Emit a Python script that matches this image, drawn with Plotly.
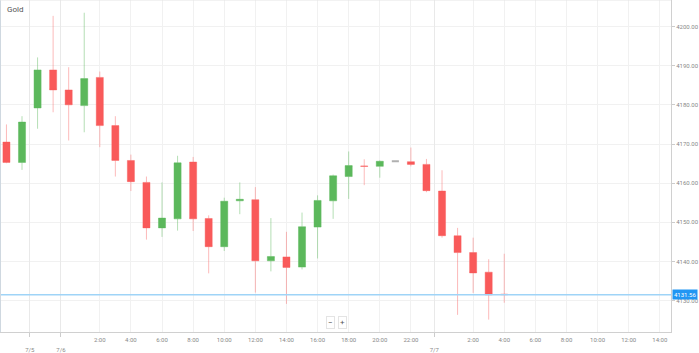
import plotly.graph_objects as go

# ---- data (hourly candles) ----
opens  = [4170.5, 4165.3, 4179.2, 4188.9, 4183.8, 4179.8, 4187.0, 4174.7, 4165.8, 4160.2,
          4148.6, 4150.9, 4165.4, 4151.0, 4143.8, 4155.5, 4155.8, 4140.2, 4141.2, 4138.6,
          4148.8, 4155.5, 4161.7, 4164.4, 4164.3, 4165.6, 4165.5, 4164.8, 4158.0, 4146.6,
          4142.3, 4137.3, 4131.7]
highs  = [4175.0, 4177.1, 4192.1, 4202.7, 4189.6, 4203.5, 4188.5, 4177.1, 4167.3, 4161.7,
          4160.2, 4167.0, 4166.7, 4151.8, 4156.3, 4160.2, 4159.0, 4151.1, 4147.6, 4152.5,
          4156.9, 4162.2, 4168.1, 4166.1, 4165.8, 4165.6, 4169.1, 4166.2, 4163.3, 4148.6,
          4146.1, 4140.6, 4142.0]
lows   = [4165.1, 4163.4, 4173.9, 4178.1, 4170.9, 4173.0, 4169.2, 4161.7, 4158.0, 4145.6,
          4146.3, 4147.9, 4147.8, 4137.0, 4142.7, 4152.1, 4132.1, 4137.5, 4129.2, 4138.0,
          4140.8, 4150.9, 4156.0, 4159.5, 4161.4, 4165.6, 4164.3, 4157.7, 4146.1, 4126.4,
          4132.0, 4125.2, 4129.5]
closes = [4165.3, 4175.6, 4188.9, 4183.8, 4180.0, 4186.7, 4174.7, 4165.8, 4160.4, 4148.6,
          4151.1, 4165.2, 4150.9, 4143.8, 4155.4, 4155.9, 4140.2, 4141.3, 4138.5, 4148.9,
          4155.6, 4161.9, 4164.5, 4164.3, 4165.6, 4165.6, 4164.8, 4158.1, 4146.6, 4142.3,
          4137.1, 4131.5, 4131.56]
last_price = 4131.56

time_tickvals = [6, 8, 10, 12, 14, 16, 18, 20, 22, 24, 26, 30, 32, 34, 36, 38, 40, 42]
time_ticktext = ["2:00", "4:00", "6:00", "8:00", "10:00", "12:00", "14:00", "16:00", "18:00",
                 "20:00", "22:00", "2:00", "4:00", "6:00", "8:00", "10:00", "12:00", "14:00"]
date_tickvals = [1.5, 3.5, 27.5]
date_ticktext = ["7/5", "7/6", "7/7"]
y_tickvals = [4130, 4140, 4150, 4160, 4170, 4180, 4190, 4200]

x_range = [-0.415, 42.72]
y_range = [4122.03, 4206.75]

GREEN = "#5cb85c"
RED = "#f95a5a"
GREEN_L = "rgba(92,184,92,0.45)"
RED_L = "rgba(249,90,90,0.42)"
GRAY = "#b0b0b0"
FONT = "Roboto"

xs = list(range(len(opens)))
move = [i for i in xs if closes[i] != opens[i]]
flat = [i for i in xs if closes[i] == opens[i]]

fig = go.Figure()
fig.add_trace(go.Candlestick(
    x=[xs[i] for i in move], open=[opens[i] for i in move], high=[highs[i] for i in move],
    low=[lows[i] for i in move], close=[closes[i] for i in move],
    increasing=dict(fillcolor=GREEN, line=dict(color=GREEN_L, width=1)),
    decreasing=dict(fillcolor=RED, line=dict(color=RED_L, width=1)),
    whiskerwidth=0, showlegend=False, hoverinfo="skip"))
fig.add_trace(go.Candlestick(
    x=[xs[i] for i in flat], open=[opens[i] for i in flat], high=[highs[i] for i in flat],
    low=[lows[i] for i in flat], close=[closes[i] for i in flat],
    increasing=dict(fillcolor=GRAY, line=dict(color=GRAY, width=2)),
    decreasing=dict(fillcolor=GRAY, line=dict(color=GRAY, width=2)),
    whiskerwidth=0, showlegend=False, hoverinfo="skip"))
# dummy trace on secondary x axis (date ticks)
fig.add_trace(go.Scatter(x=[date_tickvals[0]], y=[last_price], xaxis="x2", mode="markers",
                         marker=dict(opacity=0), showlegend=False, hoverinfo="skip"))

# last price line
fig.add_hline(y=last_price, line=dict(color="#9fd4f7", width=1.5), layer="above")

fig.update_layout(
    width=699, height=353,
    margin=dict(l=0, r=24, t=0, b=18),
    paper_bgcolor="white", plot_bgcolor="white",
    font=dict(family=FONT, color="#888888", size=6),
    boxgap=0.35,
    xaxis=dict(range=x_range, rangeslider=dict(visible=False), tickmode="array",
               tickvals=time_tickvals, ticktext=time_ticktext, showgrid=True,
               gridcolor="#f1f1f1", gridwidth=1, zeroline=False, showline=True,
               linecolor="#d0d0d0", linewidth=1, ticks="", tickfont=dict(size=6, color="#888888"),
               ticklabelstandoff=2),
    xaxis2=dict(range=x_range, overlaying="x", side="bottom", anchor="y", tickmode="array",
                tickvals=date_tickvals, ticktext=["<br>" + t for t in date_ticktext],
                showgrid=True, gridcolor="#e9e9e9", zeroline=False, showline=False,
                ticks="outside", ticklen=4, tickcolor="#cccccc",
                tickfont=dict(size=6, color="#888888")),
    yaxis=dict(range=y_range, side="right", tickmode="array", tickvals=y_tickvals,
               ticktext=[f"{v:.2f}" for v in y_tickvals], showgrid=True, gridcolor="#f1f1f1",
               zeroline=False, showline=True, linecolor="#d0d0d0", linewidth=1,
               ticks="outside", ticklen=3, tickcolor="#cccccc",
               tickfont=dict(size=6, color="#888888")),
    hovermode=False,
)

# title
fig.add_annotation(text="Gold", xref="paper", yref="paper", x=0.008, y=0.99,
                   xanchor="left", yanchor="top", showarrow=False,
                   font=dict(family=FONT, size=8, color="#555555"))
# last price label
fig.add_annotation(text=f"{last_price:.2f}", xref="paper", yref="y", x=1, y=last_price,
                   xanchor="left", yanchor="middle", xshift=1, showarrow=False,
                   bgcolor="#2196f3", borderpad=1, font=dict(family=FONT, size=6, color="white"))
# zoom buttons
for label, px in [("\u2212", 0.492), ("+", 0.510)]:
    fig.add_annotation(text=label, xref="paper", yref="paper", x=px, y=0.028,
                       xanchor="center", yanchor="middle", showarrow=False,
                       bgcolor="white", bordercolor="#e4e4e4", borderwidth=1, borderpad=1,
                       font=dict(family=FONT, size=8, color="#555555"))
# container borders (left / top)
fig.add_shape(type="line", xref="paper", yref="paper", x0=0, x1=0, y0=0, y1=1,
              line=dict(color="#cfd8e0", width=2))
fig.add_shape(type="line", xref="paper", yref="paper", x0=0, x1=1, y0=1, y1=1,
              line=dict(color="#e6e6e6", width=1))

fig.write_html("out.html")
